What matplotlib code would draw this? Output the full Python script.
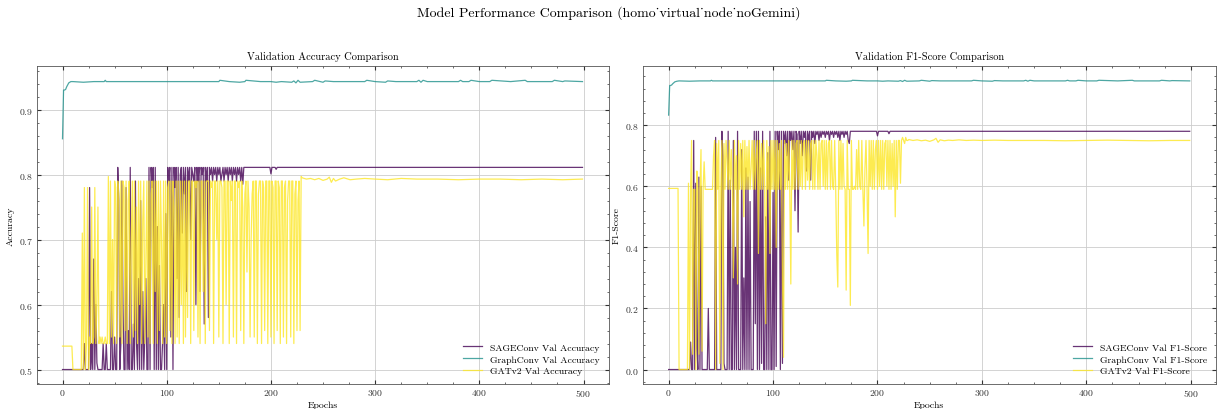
import numpy as np
import matplotlib
matplotlib.use("Agg")
import matplotlib.pyplot as plt
from matplotlib.ticker import AutoMinorLocator

plt.rcParams.update({
    "font.family": "serif",
    "font.serif": ["cmr10", "DejaVu Serif"],
    "mathtext.fontset": "cm",
    "axes.formatter.use_mathtext": True,
    "axes.unicode_minus": False,
    "xtick.direction": "in",
    "ytick.direction": "in",
    "xtick.top": True,
    "ytick.right": True,
    "xtick.minor.visible": True,
    "ytick.minor.visible": True,
    "xtick.major.size": 3,
    "ytick.major.size": 3,
    "xtick.minor.size": 1.5,
    "ytick.minor.size": 1.5,
    "xtick.major.pad": 2.5,
    "ytick.major.pad": 2.5,
    "axes.linewidth": 0.6,
    "axes.edgecolor": "#555555",
})

C_SAGE = "#440154"
C_GC = "#21918c"
C_GAT = "#fde725"

# ---------------- Accuracy panel ----------------
SAGE_ACC_HEAD = [0.50] * 20  # epochs 0-19
SAGE_ACC_OSC = [  # epochs 20-179
    0.50, 0.54, 0.50, 0.50, 0.50, 0.50, 0.78, 0.50, 0.54, 0.50, 0.67, 0.50, 0.60, 0.51, 0.50, 0.50, 0.50, 0.50, 0.50, 0.54,
    0.50, 0.50, 0.54, 0.50, 0.50, 0.50, 0.50, 0.62, 0.50, 0.50, 0.55, 0.50, 0.50, 0.811, 0.76, 0.50, 0.54, 0.79, 0.60, 0.50,
    0.50, 0.78, 0.50, 0.56, 0.50, 0.811, 0.50, 0.50, 0.57, 0.50, 0.79, 0.54, 0.50, 0.64, 0.50, 0.76, 0.50, 0.62, 0.50, 0.55,
    0.64, 0.50, 0.50, 0.811, 0.50, 0.811, 0.78, 0.811, 0.50, 0.811, 0.50, 0.72, 0.50, 0.66, 0.50, 0.50, 0.54, 0.60, 0.50, 0.74,
    0.50, 0.811, 0.79, 0.811, 0.55, 0.811, 0.50, 0.811, 0.78, 0.811, 0.64, 0.811, 0.58, 0.80, 0.811, 0.71, 0.811, 0.77, 0.811, 0.62,
    0.811, 0.79, 0.811, 0.70, 0.811, 0.80, 0.79, 0.811, 0.60, 0.811, 0.79, 0.811, 0.62, 0.811, 0.80, 0.811, 0.57, 0.811, 0.79, 0.811,
    0.58, 0.811, 0.80, 0.811, 0.79, 0.811, 0.80, 0.811, 0.79, 0.811, 0.80, 0.811, 0.79, 0.80, 0.811, 0.79, 0.811, 0.80, 0.811, 0.79,
    0.811, 0.80, 0.811, 0.79, 0.811, 0.80, 0.811, 0.79, 0.811, 0.80, 0.811, 0.79, 0.811, 0.785, 0.811, 0.811, 0.811, 0.811, 0.811, 0.811,
]
SAGE_ACC_TAIL_EP = [180, 199, 200, 201, 204, 205, 206, 499]
SAGE_ACC_TAIL = [0.811, 0.811, 0.801, 0.811, 0.811, 0.808, 0.811, 0.811]

GAT_ACC_HEAD = [0.536] * 10 + [0.50] * 9  # epochs 0-18
GAT_ACC_OSC = [  # epochs 19-229
    0.71, 0.50, 0.78, 0.50, 0.54, 0.78, 0.50, 0.55, 0.54, 0.75, 0.54, 0.55, 0.78, 0.54, 0.60, 0.75, 0.54, 0.55, 0.54, 0.55,
    0.54, 0.54, 0.55, 0.54, 0.54, 0.797, 0.54, 0.79, 0.55, 0.70, 0.54, 0.79, 0.78, 0.54, 0.79, 0.77, 0.55, 0.79, 0.54, 0.79,
    0.78, 0.56, 0.79, 0.54, 0.76, 0.79, 0.54, 0.70, 0.79, 0.55, 0.79, 0.56, 0.75, 0.54, 0.79, 0.60, 0.79, 0.54, 0.73, 0.79,
    0.54, 0.66, 0.79, 0.55, 0.79, 0.54, 0.77, 0.79, 0.54, 0.79, 0.62, 0.79, 0.54, 0.79, 0.56, 0.79, 0.70, 0.54, 0.79, 0.55,
    0.79, 0.54, 0.78, 0.79, 0.56, 0.79, 0.54, 0.79, 0.75, 0.54, 0.79, 0.55, 0.79, 0.54, 0.79, 0.60, 0.79, 0.54, 0.79, 0.55,
    0.79, 0.58, 0.79, 0.79, 0.54, 0.79, 0.79, 0.56, 0.79, 0.78, 0.79, 0.55, 0.79, 0.54, 0.79, 0.79, 0.62, 0.79, 0.54, 0.79,
    0.79, 0.79, 0.56, 0.79, 0.78, 0.79, 0.54, 0.79, 0.79, 0.70, 0.79, 0.55, 0.79, 0.79, 0.78, 0.54, 0.79, 0.79, 0.60, 0.79,
    0.79, 0.54, 0.79, 0.76, 0.79, 0.55, 0.79, 0.79, 0.54, 0.79, 0.78, 0.79, 0.56, 0.79, 0.75, 0.54, 0.77, 0.79, 0.65, 0.79,
    0.75, 0.55, 0.70, 0.77, 0.79, 0.55, 0.79, 0.79, 0.54, 0.77, 0.79, 0.79, 0.54, 0.79, 0.78, 0.56, 0.79, 0.79, 0.54, 0.79,
    0.79, 0.55, 0.79, 0.78, 0.54, 0.79, 0.79, 0.56, 0.79, 0.78, 0.54, 0.79, 0.79, 0.55, 0.78, 0.79, 0.54, 0.76, 0.79, 0.79,
    0.55, 0.79, 0.79, 0.54, 0.77, 0.79, 0.56, 0.76, 0.79, 0.56, 0.797,
]
GAT_ACC_TAIL_EP = [230, 234, 238, 242, 246, 250, 254, 256, 258, 260, 262, 266, 270, 276, 282, 290,
                   300, 312, 325, 340, 360, 380, 400, 420, 440, 460, 480, 499]
GAT_ACC_TAIL = [0.795, 0.793, 0.794, 0.792, 0.794, 0.791, 0.793, 0.796, 0.788, 0.794, 0.790, 0.793, 0.795, 0.792, 0.793, 0.794,
                0.793, 0.792, 0.794, 0.793, 0.793, 0.792, 0.793, 0.793, 0.792, 0.793, 0.792, 0.793]

GC_ACC_EP = [0, 1, 2, 3, 4, 5, 6, 8, 10, 20, 30, 40, 41, 42, 60, 80, 100, 120, 140, 150, 151, 160, 170, 175, 176, 190,
             200, 205, 210, 220, 222, 224, 226, 228, 240, 242, 250, 252, 260, 280, 290, 292, 300, 310, 312, 320, 330,
             340, 342, 344, 346, 350, 360, 380, 382, 384, 390, 392, 400, 410, 412, 430, 444, 446, 460, 470, 472, 480, 482, 499]
GC_ACC = [0.855, 0.930, 0.930, 0.931, 0.935, 0.938, 0.941, 0.943, 0.943, 0.942, 0.943, 0.943, 0.945, 0.943, 0.943, 0.943,
          0.943, 0.943, 0.943, 0.943, 0.945, 0.943, 0.942, 0.943, 0.945, 0.943, 0.943, 0.942, 0.943, 0.942, 0.944, 0.941,
          0.945, 0.942, 0.943, 0.945, 0.942, 0.944, 0.943, 0.943, 0.943, 0.945, 0.943, 0.942, 0.944, 0.943, 0.943,
          0.943, 0.945, 0.942, 0.945, 0.943, 0.943, 0.943, 0.945, 0.943, 0.943, 0.945, 0.943, 0.943, 0.945, 0.943, 0.945,
          0.943, 0.943, 0.943, 0.945, 0.943, 0.944, 0.943]

# ---------------- F1 panel ----------------
SAGE_F1_HEAD = [0.0] * 20  # epochs 0-19
SAGE_F1_OSC = [  # epochs 20-179
    0.00, 0.09, 0.00, 0.00, 0.75, 0.00, 0.61, 0.07, 0.00, 0.63, 0.00, 0.60, 0.00, 0.00, 0.00, 0.00, 0.00, 0.00, 0.20, 0.00,
    0.00, 0.00, 0.00, 0.00, 0.00, 0.76, 0.00, 0.00, 0.00, 0.00, 0.00, 0.78, 0.70, 0.02, 0.00, 0.00, 0.00, 0.78, 0.00, 0.62,
    0.00, 0.00, 0.75, 0.00, 0.40, 0.00, 0.78, 0.00, 0.00, 0.00, 0.72, 0.00, 0.30, 0.00, 0.66, 0.00, 0.63, 0.00, 0.55, 0.00,
    0.00, 0.00, 0.78, 0.15, 0.78, 0.00, 0.78, 0.00, 0.66, 0.02, 0.78, 0.00, 0.00, 0.50, 0.00, 0.71, 0.00, 0.78, 0.00, 0.00,
    0.58, 0.00, 0.78, 0.01, 0.78, 0.72, 0.78, 0.00, 0.78, 0.02, 0.78, 0.74, 0.78, 0.70, 0.78, 0.62, 0.78, 0.75, 0.78, 0.72,
    0.78, 0.52, 0.78, 0.77, 0.45, 0.78, 0.74, 0.78, 0.70, 0.78, 0.76, 0.78, 0.65, 0.78, 0.75, 0.78, 0.62, 0.78, 0.76, 0.78,
    0.74, 0.78, 0.77, 0.78, 0.75, 0.78, 0.76, 0.78, 0.77, 0.78, 0.76, 0.78, 0.77, 0.78, 0.75, 0.78, 0.77, 0.78, 0.76, 0.78,
    0.77, 0.78, 0.76, 0.78, 0.75, 0.78, 0.77, 0.78, 0.76, 0.78, 0.77, 0.78, 0.75, 0.74, 0.78, 0.78, 0.78, 0.78, 0.78, 0.78,
]
SAGE_F1_TAIL_EP = [180, 199, 200, 201, 210, 211, 212, 499]
SAGE_F1_TAIL = [0.78, 0.78, 0.765, 0.78, 0.78, 0.772, 0.78, 0.78]

GAT_F1_HEAD = [0.593] * 10 + [0.0] * 9  # epochs 0-18
GAT_F1_OSC = [  # epochs 19-229
    0.61, 0.00, 0.59, 0.75, 0.05, 0.59, 0.59, 0.00, 0.65, 0.59, 0.05, 0.59, 0.72, 0.06, 0.59, 0.68, 0.59, 0.59, 0.59, 0.59,
    0.59, 0.59, 0.59, 0.59, 0.70, 0.75, 0.00, 0.74, 0.59, 0.75, 0.02, 0.59, 0.75, 0.00, 0.74, 0.59, 0.75, 0.69, 0.59, 0.75,
    0.59, 0.72, 0.59, 0.30, 0.75, 0.59, 0.70, 0.28, 0.75, 0.59, 0.74, 0.59, 0.75, 0.50, 0.75, 0.59, 0.73, 0.59, 0.75, 0.59,
    0.66, 0.75, 0.59, 0.75, 0.59, 0.70, 0.75, 0.38, 0.75, 0.59, 0.74, 0.59, 0.75, 0.59, 0.15, 0.75, 0.59, 0.73, 0.38, 0.75,
    0.59, 0.75, 0.59, 0.75, 0.40, 0.75, 0.59, 0.74, 0.59, 0.75, 0.30, 0.04, 0.75, 0.59, 0.74, 0.59, 0.75, 0.59, 0.28, 0.75,
    0.59, 0.75, 0.59, 0.74, 0.75, 0.59, 0.75, 0.60, 0.75, 0.59, 0.74, 0.75, 0.59, 0.75, 0.62, 0.75, 0.59, 0.74, 0.75, 0.59,
    0.75, 0.59, 0.75, 0.70, 0.59, 0.75, 0.59, 0.74, 0.75, 0.60, 0.75, 0.59, 0.75, 0.59, 0.74, 0.75, 0.59, 0.75, 0.60, 0.59,
    0.75, 0.59, 0.38, 0.27, 0.75, 0.59, 0.75, 0.59, 0.74, 0.60, 0.59, 0.26, 0.75, 0.59, 0.59, 0.21, 0.75, 0.59, 0.59, 0.60,
    0.59, 0.72, 0.59, 0.75, 0.60, 0.59, 0.75, 0.59, 0.47, 0.66, 0.75, 0.59, 0.38, 0.75, 0.60, 0.75, 0.59, 0.75, 0.59, 0.72,
    0.75, 0.59, 0.75, 0.60, 0.75, 0.59, 0.75, 0.59, 0.74, 0.75, 0.60, 0.75, 0.59, 0.75, 0.59, 0.74, 0.60, 0.75, 0.50, 0.75,
    0.59, 0.75, 0.75, 0.61, 0.75, 0.76, 0.75, 0.74, 0.76, 0.75, 0.75,
]
GAT_F1_TAIL_EP = [230, 234, 238, 242, 246, 250, 254, 256, 258, 260, 264, 268, 272, 278, 285, 292,
                  300, 312, 325, 340, 360, 380, 400, 420, 440, 460, 480, 499]
GAT_F1_TAIL = [0.753, 0.750, 0.752, 0.749, 0.751, 0.747, 0.752, 0.757, 0.744, 0.752, 0.749, 0.751, 0.750, 0.752, 0.750, 0.751,
               0.750, 0.751, 0.750, 0.750, 0.750, 0.749, 0.750, 0.751, 0.750, 0.749, 0.750, 0.750]

GC_F1_EP = [0, 1, 2, 3, 4, 5, 6, 8, 10, 20, 30, 40, 41, 42, 60, 80, 100, 120, 140, 150, 151, 160, 170, 175, 176, 190,
            200, 205, 210, 220, 222, 224, 226, 228, 240, 242, 250, 252, 260, 280, 290, 292, 300, 310, 312, 320, 330,
            340, 342, 344, 346, 350, 360, 380, 382, 384, 390, 392, 400, 410, 412, 430, 444, 446, 460, 470, 472, 480, 482, 499]
GC_F1 = [0.833, 0.930, 0.930, 0.932, 0.936, 0.939, 0.942, 0.944, 0.945, 0.944, 0.945, 0.945, 0.947, 0.945, 0.945, 0.945,
         0.945, 0.945, 0.945, 0.945, 0.947, 0.945, 0.944, 0.945, 0.947, 0.945, 0.945, 0.944, 0.945, 0.944, 0.946, 0.943,
         0.947, 0.944, 0.945, 0.947, 0.944, 0.946, 0.945, 0.945, 0.945, 0.947, 0.945, 0.944, 0.946, 0.945, 0.945,
         0.945, 0.947, 0.944, 0.947, 0.945, 0.945, 0.945, 0.947, 0.945, 0.945, 0.947, 0.945, 0.945, 0.947, 0.945, 0.947,
         0.945, 0.945, 0.945, 0.947, 0.945, 0.946, 0.945]


def series(head, osc, tail_ep, tail):
    vals = list(head) + list(osc) + list(tail)
    eps = list(range(len(head) + len(osc))) + list(tail_ep)
    return eps, vals


fig = plt.figure(figsize=(12.17, 4.10), dpi=100)
axA = fig.add_axes([0.030, 0.061, 0.470, 0.776])
axB = fig.add_axes([0.528, 0.061, 0.471, 0.776])

panels = [
    (axA, "Accuracy", "Validation Accuracy Comparison",
     [("SAGEConv", C_SAGE, series(SAGE_ACC_HEAD, SAGE_ACC_OSC, SAGE_ACC_TAIL_EP, SAGE_ACC_TAIL)),
      ("GraphConv", C_GC, (GC_ACC_EP, GC_ACC)),
      ("GATv2", C_GAT, series(GAT_ACC_HEAD, GAT_ACC_OSC, GAT_ACC_TAIL_EP, GAT_ACC_TAIL))]),
    (axB, "F1-Score", "Validation F1-Score Comparison",
     [("SAGEConv", C_SAGE, series(SAGE_F1_HEAD, SAGE_F1_OSC, SAGE_F1_TAIL_EP, SAGE_F1_TAIL)),
      ("GraphConv", C_GC, (GC_F1_EP, GC_F1)),
      ("GATv2", C_GAT, series(GAT_F1_HEAD, GAT_F1_OSC, GAT_F1_TAIL_EP, GAT_F1_TAIL))]),
]

for ax, metric, title, lines in panels:
    for name, col, (xs, ys) in lines:
        ax.plot(xs, ys, color=col, lw=0.9, alpha=0.8, label=f"{name} Val {metric}")
    ax.set_title(title, fontsize=7.5, pad=5)
    ax.set_xlabel("Epochs", fontsize=7, labelpad=1.5)
    ax.set_ylabel(metric, fontsize=7, labelpad=3)
    ax.tick_params(labelsize=7, colors="#333333")
    ax.tick_params(which="minor", colors="#555555")
    ax.xaxis.set_minor_locator(AutoMinorLocator(4))
    ax.yaxis.set_minor_locator(AutoMinorLocator(5))
    ax.grid(True, color="#cccccc", lw=0.6)
    ax.set_axisbelow(True)
    ax.legend(loc="lower right", fontsize=7, frameon=False, handlelength=2.0, labelspacing=0.3)

fig.suptitle("Model Performance Comparison (homo_virtual_node_noGemini)", fontsize=10, y=0.985)

fig.savefig("out.png", dpi=100)
